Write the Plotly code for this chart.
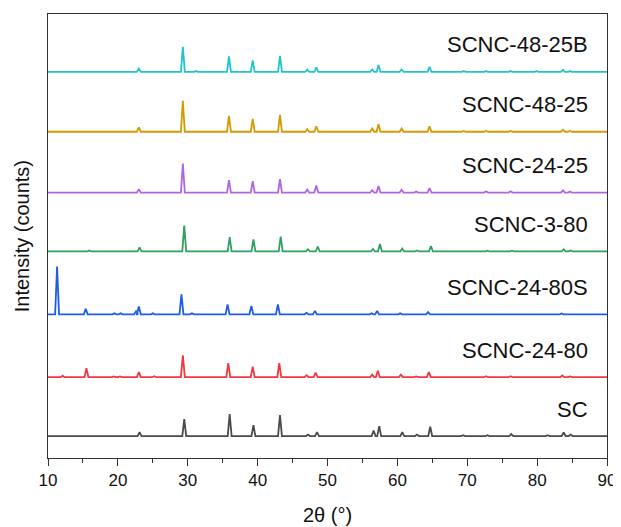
import plotly.graph_objects as go

# ---- data ----
series_names = ["SC", "SCNC-24-80", "SCNC-24-80S", "SCNC-3-80",
                "SCNC-24-25", "SCNC-48-25", "SCNC-48-25B"]
series_colors = ["#4a4a4a", "#f2383f", "#1c5fe5", "#2ea060",
                 "#b066e0", "#d49a00", "#20c4cc"]
# vertical stacking offsets (arbitrary intensity units)
offsets = [22, 81, 144, 207, 266, 327, 387]

sc_pos = [23.1, 29.5, 36.0, 39.4, 43.2, 47.2, 48.5, 56.6, 57.4, 60.7, 62.8, 64.7, 69.4, 72.9, 76.3, 81.5, 83.8, 84.8]
sc_int = [4, 17, 22, 11, 21, 1.5, 4, 5.5, 10, 4, 1.5, 9.5, 0.8, 0.8, 2, 0.8, 3.5, 1.5]

r_pos = [12.1, 15.5, 19.4, 20.3, 23.0, 25.2, 29.3, 35.8, 39.3, 43.1, 47.0, 48.3, 56.4, 57.2, 60.5, 62.7, 64.5, 72.7, 76.2, 83.6, 84.7]
r_int = [1.5, 9, 0.8, 0.8, 5, 1, 22, 14, 10.5, 14, 2, 4.5, 2.5, 6.5, 2.5, 0.8, 5, 1, 1, 1.8, 0.8]

b_pos = [11.3, 15.4, 19.5, 20.4, 22.6, 23.0, 25.0, 29.1, 30.6, 35.7, 39.1, 42.9, 47.0, 48.2, 56.3, 57.1, 60.4, 64.4, 83.5]
b_int = [48, 5.5, 1, 1, 3, 8, 1, 20, 1, 10, 8.5, 10, 1.5, 3.5, 1, 3.5, 1, 2.2, 0.8]

g_pos = [15.9, 23.1, 29.5, 36.0, 39.4, 43.3, 47.2, 48.6, 56.5, 57.5, 60.7, 62.8, 64.8, 72.9, 76.4, 83.8, 84.8]
g_int = [1, 4, 26, 14.5, 12, 15, 2.2, 5, 2.5, 7.5, 2.9, 1, 5.5, 0.8, 0.8, 2.2, 1]

p_pos = [23.0, 29.3, 35.9, 39.3, 43.2, 47.1, 48.4, 56.4, 57.3, 60.6, 62.7, 64.6, 72.7, 76.2, 83.7, 84.7]
p_int = [3.5, 29, 12.5, 11.5, 13.5, 3, 7, 2.5, 6.5, 2.8, 1, 4.4, 1.3, 1.3, 2.2, 1]

o_pos = [23.0, 29.3, 35.9, 39.3, 43.2, 47.1, 48.4, 56.4, 57.3, 60.6, 64.6, 69.5, 72.7, 76.2, 83.7, 84.7]
o_int = [4.3, 31, 16, 13, 17, 2.5, 5.5, 3.2, 7.5, 3.2, 5.5, 0.8, 0.8, 0.8, 2, 0.8]

c_pos = [23.0, 29.3, 31.2, 35.9, 39.3, 43.2, 47.1, 48.4, 56.4, 57.3, 60.6, 64.6, 69.5, 72.7, 76.2, 79.9, 83.7, 84.7]
c_int = [3.3, 25, 0.8, 15.5, 11.5, 16, 2.2, 4.4, 2.5, 7, 2.5, 5, 0.8, 0.8, 0.8, 0.8, 2, 0.8]

peak_positions = [sc_pos, r_pos, b_pos, g_pos, p_pos, o_pos, c_pos]
peak_heights = [sc_int, r_int, b_int, g_int, p_int, o_int, c_int]

x_min, x_max = 10, 90
x_ticks = [10, 20, 30, 40, 50, 60, 70, 80, 90]
label_x = 87.6
label_dy = 27
half_width = 0.28

fig = go.Figure()
for name, color, off, pos, hts in zip(series_names, series_colors, offsets,
                                      peak_positions, peak_heights):
    xs, ys = [x_min], [off]
    for p, h in zip(pos, hts):
        xs += [p - half_width, p, p + half_width]
        ys += [off, off + h, off]
    xs.append(x_max)
    ys.append(off)
    fig.add_trace(go.Scatter(x=xs, y=ys, mode="lines", name=name,
                             line=dict(color=color, width=1.8),
                             showlegend=False))
    fig.add_annotation(x=label_x, y=off + label_dy, text=name,
                       xref="x", yref="y", xanchor="right", yanchor="middle",
                       showarrow=False,
                       font=dict(size=22, color="#111111"))

fig.add_annotation(text="Intensity (counts)", xref="paper", yref="paper",
                   x=-0.046, y=0.50, textangle=-90, showarrow=False,
                   xanchor="center", yanchor="middle",
                   font=dict(size=20, color="#111111"))
fig.add_annotation(text="2θ (°)", xref="paper", yref="paper",
                   x=0.5, y=-0.128, showarrow=False,
                   xanchor="center", yanchor="middle",
                   font=dict(size=20, color="#111111"))

fig.update_layout(
    width=613, height=519,
    margin=dict(l=40, r=10, t=5, b=69),
    paper_bgcolor="white", plot_bgcolor="white",
    font=dict(family="Arial, Liberation Sans, sans-serif", color="#111111"),
    xaxis=dict(range=[x_min, x_max], tickvals=x_ticks, ticks="outside",
               ticklen=7, tickwidth=1, tickcolor="#333333",
               minor=dict(dtick=5, ticks="outside", ticklen=4,
                          tickcolor="#333333", showgrid=False),
               showgrid=False, zeroline=False, showline=True,
               linecolor="#333333", linewidth=1, mirror=True,
               tickfont=dict(size=17)),
    yaxis=dict(range=[0, 445], showticklabels=False, ticks="",
               showgrid=False, zeroline=False, showline=True,
               linecolor="#333333", linewidth=1, mirror=True),
)

fig.write_html("out.html")
